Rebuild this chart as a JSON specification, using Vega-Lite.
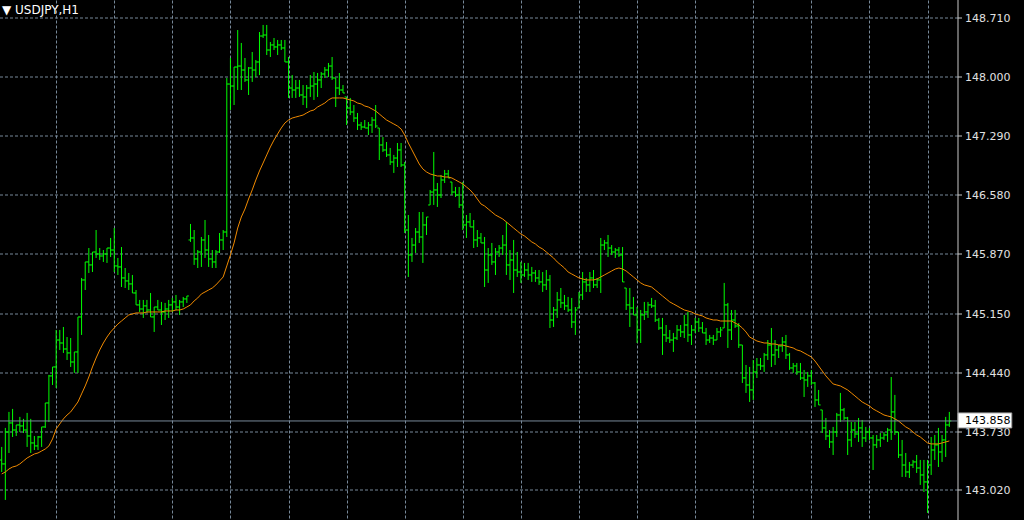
{
"$schema": "https://vega.github.io/schema/vega-lite/v6.json",
"width": 958, "height": 520,
"autosize": {"type": "none"},
"padding": {"left": 0, "top": 0, "right": 66, "bottom": 0},
"background": "#000000",
"config": {"view": {"stroke": null}},
"title": {"text": "▼ USDJPY,H1", "anchor": "start", "frame": "group", "offset": -17, "dx": 2, "color": "#ffffff", "font": "DejaVu Sans", "fontSize": 12, "fontWeight": "normal"},
"datasets": {"last": [{"price": 143.858, "label": "143.858", "top": 143.955, "bottom": 143.774}]},
"data": {"values": [
{"i":0,"o":143.388,"h":143.545,"l":143.243,"c":143.340,"ma":143.219},
{"i":1,"o":143.340,"h":143.774,"l":142.906,"c":143.725,"ma":143.243},
{"i":2,"o":143.725,"h":143.967,"l":143.472,"c":143.834,"ma":143.279},
{"i":3,"o":143.834,"h":144.003,"l":143.665,"c":143.749,"ma":143.303},
{"i":4,"o":143.749,"h":143.810,"l":143.677,"c":143.810,"ma":143.315},
{"i":5,"o":143.810,"h":143.907,"l":143.725,"c":143.798,"ma":143.340},
{"i":6,"o":143.798,"h":143.883,"l":143.713,"c":143.749,"ma":143.376},
{"i":7,"o":143.749,"h":143.955,"l":143.545,"c":143.677,"ma":143.412},
{"i":8,"o":143.677,"h":143.883,"l":143.472,"c":143.593,"ma":143.436},
{"i":9,"o":143.593,"h":143.677,"l":143.508,"c":143.557,"ma":143.460},
{"i":10,"o":143.557,"h":143.677,"l":143.508,"c":143.665,"ma":143.472},
{"i":11,"o":143.665,"h":143.786,"l":143.545,"c":143.786,"ma":143.496},
{"i":12,"o":143.786,"h":144.075,"l":143.774,"c":144.075,"ma":143.520},
{"i":13,"o":144.075,"h":144.413,"l":143.846,"c":144.401,"ma":143.557},
{"i":14,"o":144.401,"h":144.509,"l":144.292,"c":144.509,"ma":143.641},
{"i":15,"o":144.509,"h":144.955,"l":144.256,"c":144.834,"ma":143.762},
{"i":16,"o":144.834,"h":144.955,"l":144.714,"c":144.798,"ma":143.822},
{"i":17,"o":144.798,"h":144.991,"l":144.678,"c":144.726,"ma":143.883},
{"i":18,"o":144.726,"h":144.870,"l":144.593,"c":144.678,"ma":143.930},
{"i":19,"o":144.678,"h":144.858,"l":144.509,"c":144.569,"ma":143.967},
{"i":20,"o":144.569,"h":144.690,"l":144.437,"c":144.690,"ma":144.027},
{"i":21,"o":144.690,"h":145.112,"l":144.437,"c":145.112,"ma":144.087},
{"i":22,"o":145.112,"h":145.582,"l":144.895,"c":145.558,"ma":144.184},
{"i":23,"o":145.558,"h":145.775,"l":145.437,"c":145.775,"ma":144.280},
{"i":24,"o":145.775,"h":145.943,"l":145.642,"c":145.739,"ma":144.388},
{"i":25,"o":145.739,"h":145.895,"l":145.654,"c":145.895,"ma":144.509},
{"i":26,"o":145.895,"h":146.160,"l":145.823,"c":145.871,"ma":144.617},
{"i":27,"o":145.871,"h":145.943,"l":145.799,"c":145.847,"ma":144.714},
{"i":28,"o":145.847,"h":145.919,"l":145.775,"c":145.871,"ma":144.798},
{"i":29,"o":145.871,"h":145.943,"l":145.763,"c":145.943,"ma":144.870},
{"i":30,"o":145.943,"h":146.064,"l":145.835,"c":145.919,"ma":144.931},
{"i":31,"o":145.919,"h":146.184,"l":145.654,"c":145.727,"ma":144.979},
{"i":32,"o":145.727,"h":145.823,"l":145.618,"c":145.715,"ma":145.027},
{"i":33,"o":145.715,"h":145.955,"l":145.473,"c":145.582,"ma":145.063},
{"i":34,"o":145.582,"h":145.702,"l":145.461,"c":145.546,"ma":145.100},
{"i":35,"o":145.546,"h":145.642,"l":145.437,"c":145.510,"ma":145.136},
{"i":36,"o":145.510,"h":145.618,"l":145.401,"c":145.401,"ma":145.148},
{"i":37,"o":145.401,"h":145.437,"l":145.257,"c":145.257,"ma":145.160},
{"i":38,"o":145.257,"h":145.317,"l":145.172,"c":145.208,"ma":145.160},
{"i":39,"o":145.208,"h":145.317,"l":145.100,"c":145.245,"ma":145.160},
{"i":40,"o":145.245,"h":145.317,"l":145.160,"c":145.196,"ma":145.172},
{"i":41,"o":145.196,"h":145.401,"l":145.112,"c":145.112,"ma":145.172},
{"i":42,"o":145.112,"h":145.232,"l":144.931,"c":145.232,"ma":145.172},
{"i":43,"o":145.232,"h":145.317,"l":145.196,"c":145.196,"ma":145.172},
{"i":44,"o":145.196,"h":145.293,"l":145.015,"c":145.172,"ma":145.172},
{"i":45,"o":145.172,"h":145.281,"l":145.075,"c":145.208,"ma":145.184},
{"i":46,"o":145.208,"h":145.317,"l":145.100,"c":145.257,"ma":145.184},
{"i":47,"o":145.257,"h":145.341,"l":145.172,"c":145.293,"ma":145.184},
{"i":48,"o":145.293,"h":145.377,"l":145.196,"c":145.232,"ma":145.196},
{"i":49,"o":145.232,"h":145.317,"l":145.136,"c":145.293,"ma":145.196},
{"i":50,"o":145.293,"h":145.353,"l":145.232,"c":145.329,"ma":145.208},
{"i":51,"o":145.329,"h":145.365,"l":145.281,"c":145.365,"ma":145.232},
{"i":52,"o":146.040,"h":146.233,"l":146.016,"c":146.064,"ma":145.257},
{"i":53,"o":146.064,"h":146.160,"l":145.739,"c":145.811,"ma":145.305},
{"i":54,"o":145.811,"h":145.919,"l":145.702,"c":145.895,"ma":145.341},
{"i":55,"o":145.895,"h":146.076,"l":145.715,"c":146.040,"ma":145.389},
{"i":56,"o":146.040,"h":146.281,"l":145.823,"c":145.919,"ma":145.413},
{"i":57,"o":145.919,"h":146.100,"l":145.715,"c":145.811,"ma":145.437},
{"i":58,"o":145.811,"h":145.919,"l":145.702,"c":145.775,"ma":145.461},
{"i":59,"o":145.775,"h":145.919,"l":145.702,"c":145.895,"ma":145.498},
{"i":60,"o":145.895,"h":146.124,"l":145.883,"c":146.040,"ma":145.546},
{"i":61,"o":146.040,"h":146.160,"l":145.919,"c":146.136,"ma":145.594},
{"i":62,"o":146.136,"h":147.993,"l":146.076,"c":147.920,"ma":145.727},
{"i":63,"o":147.920,"h":148.234,"l":147.607,"c":147.896,"ma":145.859},
{"i":64,"o":147.896,"h":148.125,"l":147.667,"c":148.125,"ma":146.004},
{"i":65,"o":148.125,"h":148.571,"l":147.848,"c":148.137,"ma":146.184},
{"i":66,"o":148.137,"h":148.415,"l":147.848,"c":148.089,"ma":146.317},
{"i":67,"o":148.089,"h":148.234,"l":147.945,"c":147.969,"ma":146.413},
{"i":68,"o":147.969,"h":148.125,"l":147.788,"c":148.113,"ma":146.534},
{"i":69,"o":148.113,"h":148.306,"l":147.945,"c":148.089,"ma":146.643},
{"i":70,"o":148.089,"h":148.210,"l":148.005,"c":148.186,"ma":146.763},
{"i":71,"o":148.186,"h":148.547,"l":148.029,"c":148.499,"ma":146.872},
{"i":72,"o":148.499,"h":148.632,"l":148.475,"c":148.511,"ma":146.968},
{"i":73,"o":148.511,"h":148.632,"l":148.270,"c":148.330,"ma":147.065},
{"i":74,"o":148.330,"h":148.427,"l":148.246,"c":148.391,"ma":147.161},
{"i":75,"o":148.391,"h":148.475,"l":148.330,"c":148.367,"ma":147.245},
{"i":76,"o":148.367,"h":148.451,"l":148.270,"c":148.391,"ma":147.318},
{"i":77,"o":148.391,"h":148.451,"l":148.330,"c":148.355,"ma":147.390},
{"i":78,"o":148.355,"h":148.451,"l":148.186,"c":148.186,"ma":147.450},
{"i":79,"o":148.186,"h":148.246,"l":147.752,"c":147.872,"ma":147.486},
{"i":80,"o":147.872,"h":148.029,"l":147.752,"c":147.848,"ma":147.510},
{"i":81,"o":147.848,"h":147.969,"l":147.752,"c":147.872,"ma":147.522},
{"i":82,"o":147.872,"h":147.969,"l":147.764,"c":147.788,"ma":147.534},
{"i":83,"o":147.788,"h":147.908,"l":147.667,"c":147.764,"ma":147.546},
{"i":84,"o":147.764,"h":147.908,"l":147.631,"c":147.872,"ma":147.571},
{"i":85,"o":147.872,"h":148.029,"l":147.764,"c":147.896,"ma":147.595},
{"i":86,"o":147.896,"h":148.065,"l":147.728,"c":147.920,"ma":147.607},
{"i":87,"o":147.920,"h":148.053,"l":147.764,"c":147.969,"ma":147.643},
{"i":88,"o":147.969,"h":148.065,"l":147.872,"c":148.041,"ma":147.667},
{"i":89,"o":148.041,"h":148.125,"l":147.993,"c":148.089,"ma":147.691},
{"i":90,"o":148.089,"h":148.174,"l":148.005,"c":148.137,"ma":147.728},
{"i":91,"o":148.137,"h":148.246,"l":147.969,"c":147.993,"ma":147.752},
{"i":92,"o":147.993,"h":147.993,"l":147.643,"c":147.872,"ma":147.752},
{"i":93,"o":147.872,"h":148.053,"l":147.788,"c":147.848,"ma":147.752},
{"i":94,"o":147.848,"h":147.908,"l":147.812,"c":147.812,"ma":147.752},
{"i":95,"o":147.764,"h":147.764,"l":147.426,"c":147.631,"ma":147.740},
{"i":96,"o":147.631,"h":147.752,"l":147.546,"c":147.583,"ma":147.728},
{"i":97,"o":147.583,"h":147.667,"l":147.462,"c":147.510,"ma":147.716},
{"i":98,"o":147.510,"h":147.571,"l":147.366,"c":147.426,"ma":147.691},
{"i":99,"o":147.426,"h":147.462,"l":147.366,"c":147.402,"ma":147.680},
{"i":100,"o":147.402,"h":147.486,"l":147.390,"c":147.390,"ma":147.655},
{"i":101,"o":147.390,"h":147.462,"l":147.305,"c":147.426,"ma":147.643},
{"i":102,"o":147.426,"h":147.522,"l":147.330,"c":147.486,"ma":147.619},
{"i":103,"o":147.486,"h":147.667,"l":147.390,"c":147.414,"ma":147.595},
{"i":104,"o":147.390,"h":147.390,"l":147.004,"c":147.185,"ma":147.559},
{"i":105,"o":147.185,"h":147.281,"l":147.101,"c":147.125,"ma":147.522},
{"i":106,"o":147.125,"h":147.221,"l":147.040,"c":147.065,"ma":147.486},
{"i":107,"o":147.065,"h":147.149,"l":146.944,"c":146.980,"ma":147.462},
{"i":108,"o":146.980,"h":147.065,"l":146.848,"c":147.028,"ma":147.438},
{"i":109,"o":147.028,"h":147.209,"l":146.920,"c":147.125,"ma":147.414},
{"i":110,"o":147.125,"h":147.209,"l":146.920,"c":146.944,"ma":147.378},
{"i":111,"o":146.944,"h":146.980,"l":146.124,"c":146.160,"ma":147.305},
{"i":112,"o":146.160,"h":146.341,"l":145.594,"c":145.859,"ma":147.209},
{"i":113,"o":145.859,"h":146.064,"l":145.775,"c":145.979,"ma":147.125},
{"i":114,"o":145.979,"h":146.184,"l":145.883,"c":146.136,"ma":147.040},
{"i":115,"o":146.136,"h":146.377,"l":146.004,"c":146.076,"ma":146.956},
{"i":116,"o":146.076,"h":146.377,"l":145.763,"c":146.221,"ma":146.896},
{"i":117,"o":146.221,"h":146.317,"l":146.100,"c":146.317,"ma":146.860},
{"i":118,"o":146.462,"h":146.643,"l":146.462,"c":146.618,"ma":146.836},
{"i":119,"o":146.618,"h":147.101,"l":146.462,"c":146.643,"ma":146.823},
{"i":120,"o":146.643,"h":146.727,"l":146.438,"c":146.582,"ma":146.811},
{"i":121,"o":146.582,"h":146.823,"l":146.546,"c":146.763,"ma":146.811},
{"i":122,"o":146.763,"h":146.884,"l":146.727,"c":146.836,"ma":146.799},
{"i":123,"o":146.836,"h":146.884,"l":146.787,"c":146.787,"ma":146.799},
{"i":124,"o":146.739,"h":146.739,"l":146.582,"c":146.618,"ma":146.787},
{"i":125,"o":146.618,"h":146.679,"l":146.558,"c":146.582,"ma":146.763},
{"i":126,"o":146.582,"h":146.679,"l":146.426,"c":146.462,"ma":146.739},
{"i":127,"o":146.462,"h":146.739,"l":146.160,"c":146.221,"ma":146.715},
{"i":128,"o":146.221,"h":146.341,"l":146.064,"c":146.257,"ma":146.679},
{"i":129,"o":146.257,"h":146.365,"l":146.197,"c":146.197,"ma":146.643},
{"i":130,"o":146.197,"h":146.281,"l":145.943,"c":146.040,"ma":146.594},
{"i":131,"o":146.040,"h":146.160,"l":145.955,"c":146.064,"ma":146.534},
{"i":132,"o":146.064,"h":146.124,"l":146.004,"c":146.004,"ma":146.474},
{"i":133,"o":146.004,"h":146.076,"l":145.473,"c":145.678,"ma":146.450},
{"i":134,"o":145.678,"h":145.943,"l":145.522,"c":145.859,"ma":146.413},
{"i":135,"o":145.859,"h":146.004,"l":145.739,"c":145.775,"ma":146.377},
{"i":136,"o":145.775,"h":145.943,"l":145.618,"c":145.895,"ma":146.341},
{"i":137,"o":145.895,"h":145.979,"l":145.835,"c":145.943,"ma":146.317},
{"i":138,"o":145.943,"h":146.100,"l":145.859,"c":145.979,"ma":146.293},
{"i":139,"o":145.979,"h":146.257,"l":145.618,"c":145.739,"ma":146.257},
{"i":140,"o":145.739,"h":145.919,"l":145.558,"c":145.799,"ma":146.221},
{"i":141,"o":145.799,"h":146.040,"l":145.401,"c":145.678,"ma":146.184},
{"i":142,"o":145.678,"h":145.895,"l":145.594,"c":145.654,"ma":146.148},
{"i":143,"o":145.654,"h":145.775,"l":145.522,"c":145.618,"ma":146.112},
{"i":144,"o":145.618,"h":145.763,"l":145.594,"c":145.678,"ma":146.088},
{"i":145,"o":145.678,"h":145.763,"l":145.558,"c":145.618,"ma":146.052},
{"i":146,"o":145.618,"h":145.715,"l":145.534,"c":145.642,"ma":146.016},
{"i":147,"o":145.642,"h":145.678,"l":145.534,"c":145.582,"ma":145.992},
{"i":148,"o":145.582,"h":145.678,"l":145.498,"c":145.534,"ma":145.955},
{"i":149,"o":145.534,"h":145.654,"l":145.413,"c":145.498,"ma":145.931},
{"i":150,"o":145.498,"h":145.678,"l":145.437,"c":145.558,"ma":145.895},
{"i":151,"o":145.558,"h":145.618,"l":144.979,"c":145.075,"ma":145.859},
{"i":152,"o":145.075,"h":145.232,"l":144.991,"c":145.196,"ma":145.823},
{"i":153,"o":145.196,"h":145.413,"l":145.100,"c":145.317,"ma":145.775},
{"i":154,"o":145.317,"h":145.461,"l":145.220,"c":145.281,"ma":145.739},
{"i":155,"o":145.281,"h":145.377,"l":145.196,"c":145.245,"ma":145.702},
{"i":156,"o":145.245,"h":145.353,"l":145.172,"c":145.196,"ma":145.654},
{"i":157,"o":145.196,"h":145.341,"l":144.979,"c":145.051,"ma":145.630},
{"i":158,"o":145.051,"h":145.232,"l":144.895,"c":145.196,"ma":145.606},
{"i":159,"o":145.220,"h":145.413,"l":145.220,"c":145.377,"ma":145.582},
{"i":160,"o":145.377,"h":145.654,"l":145.317,"c":145.534,"ma":145.570},
{"i":161,"o":145.534,"h":145.582,"l":145.413,"c":145.498,"ma":145.558},
{"i":162,"o":145.498,"h":145.654,"l":145.413,"c":145.582,"ma":145.558},
{"i":163,"o":145.582,"h":145.678,"l":145.461,"c":145.498,"ma":145.558},
{"i":164,"o":145.498,"h":145.582,"l":145.461,"c":145.558,"ma":145.570},
{"i":165,"o":145.558,"h":146.064,"l":145.401,"c":145.979,"ma":145.594},
{"i":166,"o":145.979,"h":146.040,"l":145.919,"c":146.004,"ma":145.618},
{"i":167,"o":146.004,"h":146.100,"l":145.835,"c":145.943,"ma":145.642},
{"i":168,"o":145.943,"h":145.979,"l":145.859,"c":145.895,"ma":145.666},
{"i":169,"o":145.895,"h":145.943,"l":145.823,"c":145.919,"ma":145.690},
{"i":170,"o":145.919,"h":145.955,"l":145.835,"c":145.859,"ma":145.702},
{"i":171,"o":145.859,"h":145.955,"l":145.534,"c":145.534,"ma":145.690},
{"i":172,"o":145.461,"h":145.461,"l":145.196,"c":145.257,"ma":145.666},
{"i":173,"o":145.257,"h":145.461,"l":144.991,"c":145.220,"ma":145.630},
{"i":174,"o":145.220,"h":145.353,"l":145.136,"c":145.136,"ma":145.594},
{"i":175,"o":145.136,"h":145.232,"l":144.798,"c":144.955,"ma":145.558},
{"i":176,"o":144.955,"h":145.196,"l":144.798,"c":145.136,"ma":145.522},
{"i":177,"o":145.136,"h":145.293,"l":145.075,"c":145.172,"ma":145.498},
{"i":178,"o":145.172,"h":145.293,"l":145.100,"c":145.257,"ma":145.486},
{"i":179,"o":145.257,"h":145.341,"l":145.220,"c":145.245,"ma":145.473},
{"i":180,"o":145.245,"h":145.317,"l":145.051,"c":145.075,"ma":145.437},
{"i":181,"o":145.075,"h":145.100,"l":144.955,"c":144.979,"ma":145.401},
{"i":182,"o":144.979,"h":145.100,"l":144.654,"c":144.895,"ma":145.365},
{"i":183,"o":144.895,"h":145.015,"l":144.810,"c":144.858,"ma":145.329},
{"i":184,"o":144.858,"h":144.955,"l":144.798,"c":144.834,"ma":145.293},
{"i":185,"o":144.834,"h":144.919,"l":144.690,"c":144.858,"ma":145.269},
{"i":186,"o":144.858,"h":145.015,"l":144.834,"c":144.955,"ma":145.245},
{"i":187,"o":144.955,"h":145.015,"l":144.870,"c":144.931,"ma":145.220},
{"i":188,"o":144.931,"h":145.136,"l":144.858,"c":145.015,"ma":145.196},
{"i":189,"o":145.015,"h":145.172,"l":144.810,"c":144.895,"ma":145.184},
{"i":190,"o":144.895,"h":145.015,"l":144.774,"c":144.955,"ma":145.172},
{"i":191,"o":144.955,"h":145.100,"l":144.919,"c":145.051,"ma":145.148},
{"i":192,"o":145.051,"h":145.100,"l":144.931,"c":144.979,"ma":145.136},
{"i":193,"o":144.979,"h":145.051,"l":144.919,"c":144.919,"ma":145.124},
{"i":194,"o":144.919,"h":144.979,"l":144.774,"c":144.834,"ma":145.100},
{"i":195,"o":144.834,"h":144.895,"l":144.798,"c":144.858,"ma":145.087},
{"i":196,"o":144.858,"h":144.895,"l":144.774,"c":144.834,"ma":145.075},
{"i":197,"o":144.834,"h":144.979,"l":144.834,"c":144.931,"ma":145.075},
{"i":198,"o":144.931,"h":144.991,"l":144.870,"c":144.955,"ma":145.063},
{"i":199,"o":144.979,"h":145.522,"l":144.979,"c":145.257,"ma":145.063},
{"i":200,"o":145.257,"h":145.281,"l":144.738,"c":144.955,"ma":145.063},
{"i":201,"o":144.955,"h":145.196,"l":144.834,"c":145.075,"ma":145.063},
{"i":202,"o":145.075,"h":145.196,"l":144.979,"c":145.003,"ma":145.039},
{"i":203,"o":145.003,"h":145.039,"l":144.738,"c":144.774,"ma":145.015},
{"i":204,"o":144.774,"h":144.774,"l":144.316,"c":144.377,"ma":144.979},
{"i":205,"o":144.377,"h":144.533,"l":144.196,"c":144.292,"ma":144.931},
{"i":206,"o":144.292,"h":144.509,"l":144.087,"c":144.232,"ma":144.870},
{"i":207,"o":144.232,"h":144.593,"l":144.111,"c":144.449,"ma":144.846},
{"i":208,"o":144.449,"h":144.617,"l":144.376,"c":144.533,"ma":144.822},
{"i":209,"o":144.533,"h":144.617,"l":144.473,"c":144.521,"ma":144.810},
{"i":210,"o":144.521,"h":144.678,"l":144.449,"c":144.654,"ma":144.798},
{"i":211,"o":144.654,"h":144.834,"l":144.593,"c":144.774,"ma":144.798},
{"i":212,"o":144.774,"h":144.979,"l":144.509,"c":144.654,"ma":144.786},
{"i":213,"o":144.654,"h":144.834,"l":144.533,"c":144.714,"ma":144.786},
{"i":214,"o":144.714,"h":144.774,"l":144.617,"c":144.762,"ma":144.774},
{"i":215,"o":144.762,"h":144.870,"l":144.690,"c":144.810,"ma":144.774},
{"i":216,"o":144.810,"h":144.895,"l":144.605,"c":144.654,"ma":144.762},
{"i":217,"o":144.654,"h":144.678,"l":144.473,"c":144.497,"ma":144.750},
{"i":218,"o":144.497,"h":144.557,"l":144.437,"c":144.521,"ma":144.738},
{"i":219,"o":144.521,"h":144.557,"l":144.413,"c":144.449,"ma":144.714},
{"i":220,"o":144.449,"h":144.557,"l":144.352,"c":144.376,"ma":144.702},
{"i":221,"o":144.376,"h":144.473,"l":144.147,"c":144.352,"ma":144.678},
{"i":222,"o":144.352,"h":144.449,"l":144.268,"c":144.401,"ma":144.654},
{"i":223,"o":144.401,"h":144.473,"l":144.292,"c":144.316,"ma":144.630},
{"i":224,"o":144.316,"h":144.328,"l":144.027,"c":144.111,"ma":144.581},
{"i":225,"o":144.111,"h":144.232,"l":144.051,"c":144.051,"ma":144.521},
{"i":226,"o":143.991,"h":143.991,"l":143.713,"c":143.774,"ma":144.461},
{"i":227,"o":143.774,"h":143.894,"l":143.629,"c":143.677,"ma":144.401},
{"i":228,"o":143.677,"h":143.749,"l":143.532,"c":143.605,"ma":144.352},
{"i":229,"o":143.605,"h":143.786,"l":143.448,"c":143.725,"ma":144.304},
{"i":230,"o":143.725,"h":143.955,"l":143.665,"c":143.930,"ma":144.292},
{"i":231,"o":143.930,"h":144.196,"l":143.846,"c":143.991,"ma":144.280},
{"i":232,"o":143.991,"h":144.015,"l":143.870,"c":143.894,"ma":144.256},
{"i":233,"o":143.894,"h":143.907,"l":143.448,"c":143.629,"ma":144.232},
{"i":234,"o":143.629,"h":143.846,"l":143.545,"c":143.749,"ma":144.196},
{"i":235,"o":143.749,"h":143.846,"l":143.653,"c":143.701,"ma":144.160},
{"i":236,"o":143.701,"h":143.894,"l":143.605,"c":143.774,"ma":144.123},
{"i":237,"o":143.774,"h":143.870,"l":143.545,"c":143.653,"ma":144.087},
{"i":238,"o":143.653,"h":143.786,"l":143.605,"c":143.725,"ma":144.063},
{"i":239,"o":143.725,"h":143.774,"l":143.629,"c":143.653,"ma":144.039},
{"i":240,"o":143.653,"h":143.689,"l":143.267,"c":143.569,"ma":144.003},
{"i":241,"o":143.569,"h":143.689,"l":143.532,"c":143.629,"ma":143.979},
{"i":242,"o":143.629,"h":143.713,"l":143.545,"c":143.653,"ma":143.955},
{"i":243,"o":143.653,"h":143.725,"l":143.629,"c":143.689,"ma":143.930},
{"i":244,"o":143.689,"h":143.774,"l":143.605,"c":143.749,"ma":143.918},
{"i":245,"o":143.749,"h":144.388,"l":143.629,"c":143.967,"ma":143.907},
{"i":246,"o":143.967,"h":144.172,"l":143.689,"c":143.725,"ma":143.883},
{"i":247,"o":143.725,"h":143.725,"l":143.412,"c":143.448,"ma":143.858},
{"i":248,"o":143.448,"h":143.629,"l":143.183,"c":143.327,"ma":143.822},
{"i":249,"o":143.327,"h":143.472,"l":143.183,"c":143.243,"ma":143.786},
{"i":250,"o":143.243,"h":143.364,"l":143.171,"c":143.327,"ma":143.762},
{"i":251,"o":143.327,"h":143.388,"l":143.291,"c":143.364,"ma":143.725},
{"i":252,"o":143.364,"h":143.448,"l":143.231,"c":143.291,"ma":143.689},
{"i":253,"o":143.291,"h":143.388,"l":143.087,"c":143.207,"ma":143.665},
{"i":254,"o":143.207,"h":143.388,"l":143.002,"c":143.123,"ma":143.629},
{"i":255,"o":143.123,"h":143.388,"l":142.749,"c":143.327,"ma":143.593},
{"i":256,"o":143.327,"h":143.665,"l":143.207,"c":143.508,"ma":143.581},
{"i":257,"o":143.508,"h":143.689,"l":143.388,"c":143.569,"ma":143.581},
{"i":258,"o":143.569,"h":143.774,"l":143.303,"c":143.484,"ma":143.581},
{"i":259,"o":143.484,"h":143.689,"l":143.364,"c":143.629,"ma":143.593},
{"i":260,"o":143.629,"h":143.907,"l":143.424,"c":143.810,"ma":143.605},
{"i":261,"o":143.810,"h":143.967,"l":143.786,"c":143.858,"ma":143.617}
]},
"layer": [
{"mark": {"type": "rule", "color": "#00ff00", "strokeWidth": 1},
 "encoding": {
  "x": {"field": "i", "type": "quantitative", "title": null,
        "scale": {"domain": [-0.468, 263.39], "nice": false, "zero": false},
        "axis": {"orient": "bottom", "values": [15,31,47,63,79,95,111,127,143,159,175,191,207,223,239,255], "labels": false, "ticks": false, "domain": false, "grid": true, "gridColor": "#778899", "gridDash": [3,2], "gridWidth": 1, "title": null}},
  "y": {"field": "l", "type": "quantitative", "title": null,
        "scale": {"domain": [142.664, 148.933], "nice": false, "zero": false},
        "axis": {"orient": "right", "values": [143.02,143.73,144.44,145.15,145.87,146.58,147.29,148.0,148.71], "format": ".3f", "grid": true, "gridColor": "#778899", "gridDash": [3,2], "gridWidth": 1, "translate": 0, "domain": true, "domainColor": "#c8c8c8", "domainWidth": 1, "ticks": true, "tickColor": "#c8c8c8", "tickSize": 4, "labelColor": "#e0e0e0", "labelFont": "DejaVu Sans", "labelFontSize": 11, "labelPadding": 3, "labelOffset": 1, "labelOverlap": false, "labelFlush": false, "title": null}},
  "y2": {"field": "h"}
 }},
{"mark": {"type": "tick", "orient": "horizontal", "size": 2, "thickness": 1, "xOffset": -1, "color": "#00ff00", "opacity": 1},
 "encoding": {"x": {"field": "i", "type": "quantitative", "title": null}, "y": {"field": "o", "type": "quantitative", "title": null}}},
{"mark": {"type": "tick", "orient": "horizontal", "size": 2, "thickness": 1, "xOffset": 1, "color": "#00ff00", "opacity": 1},
 "encoding": {"x": {"field": "i", "type": "quantitative", "title": null}, "y": {"field": "c", "type": "quantitative", "title": null}}},
{"mark": {"type": "line", "color": "#f08a00", "strokeWidth": 1},
 "encoding": {"x": {"field": "i", "type": "quantitative", "title": null}, "y": {"field": "ma", "type": "quantitative", "title": null}}},
{"data": {"name": "last"},
 "mark": {"type": "rule", "color": "#778899", "strokeWidth": 1},
 "encoding": {"y": {"field": "price", "type": "quantitative", "title": null}}},
{"data": {"name": "last"},
 "mark": {"type": "rect", "fill": "#ffffff", "stroke": "#a0a0a0", "strokeWidth": 1, "clip": false},
 "encoding": {"x": {"datum": 263.39}, "x2": {"datum": 278.2}, "y": {"field": "top", "type": "quantitative", "title": null}, "y2": {"field": "bottom"}}},
{"data": {"name": "last"},
 "mark": {"type": "text", "color": "#000000", "font": "DejaVu Sans", "fontSize": 11, "align": "left", "baseline": "middle", "clip": false},
 "encoding": {"x": {"datum": 265.3}, "y": {"field": "price", "type": "quantitative", "title": null}, "text": {"field": "label"}}}
]
}
